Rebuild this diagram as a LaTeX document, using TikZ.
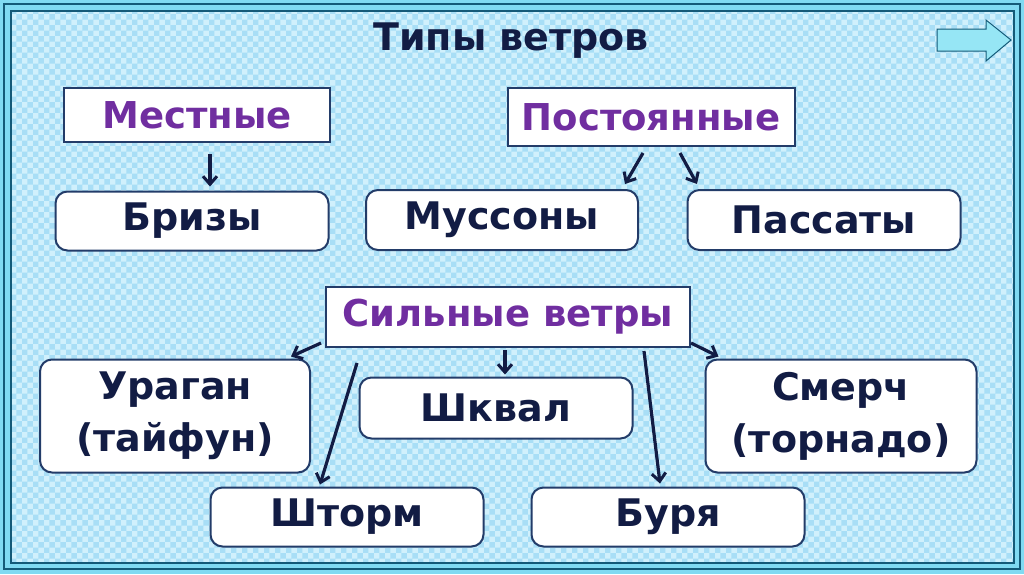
\documentclass[tikz,border=0pt]{standalone}
\usepackage{fontspec}
\setmainfont{DejaVu Sans}
\usetikzlibrary{arrows.meta,patterns}
\definecolor{bandcyan}{RGB}{128,218,242}
\definecolor{framedark}{RGB}{20,90,120}
\definecolor{skyback}{RGB}{208,240,252}
\definecolor{skychk}{RGB}{168,222,246}
\definecolor{boxline}{RGB}{35,60,105}
\definecolor{navytext}{RGB}{18,28,68}
\definecolor{violettext}{RGB}{112,46,160}
\definecolor{btnfill}{RGB}{150,230,245}

\begin{document}
\begin{tikzpicture}[x=1pt,y=-1pt,
  headbox/.style={draw=boxline,line width=2pt,fill=white,inner sep=0pt,text=violettext,font=\fontsize{37}{44}\selectfont\bfseries},
  windbox/.style={draw=boxline,line width=2pt,fill=white,rounded corners=12pt,inner sep=0pt,text=navytext,align=center,font=\fontsize{38}{52}\selectfont\bfseries},
  windarrow/.style={draw=navytext,line width=3.2pt,-{Straight Barb[length=8pt,width=14pt,line width=3pt]}}]
\useasboundingbox (0,0) rectangle (1024,574);
\path[fill=bandcyan] (0,0) rectangle (1024,574);
\path[fill=skyback] (11,11) rectangle (1014,563);
\path[pattern=checkerboard,pattern color=skychk] (11,11) rectangle (1014,563);
\draw[framedark,line width=1.2pt] (4,4) rectangle (1020,569);
\draw[framedark,line width=1.6pt] (11,11) rectangle (1014,563);
\path[fill=btnfill,draw=framedark,line width=1pt] (937,29) -- (986,29) -- (986,20) -- (1011,40) -- (986,61) -- (986,51) -- (937,51) -- cycle;
\node[text=navytext,font=\fontsize{38}{44}\selectfont\bfseries] (title) at (511,41) {Типы ветров};
\node[headbox,minimum width=266pt,minimum height=54pt] (local) at (197,115) {Местные};
\node[headbox,minimum width=287pt,minimum height=58pt] (constant) at (651,117) {Постоянные};
\node[windbox,minimum width=273pt,minimum height=59pt] (breeze) at (192,221) {Бризы};
\node[windbox,minimum width=272pt,minimum height=60pt] (monsoon) at (502,220) {Муссоны};
\node[windbox,minimum width=273pt,minimum height=60pt] (tradewind) at (824,220) {Пассаты};
\node[headbox,minimum width=364pt,minimum height=60pt] (strong) at (508,317) {Сильные ветры};
\node[windbox,minimum width=270pt,minimum height=113pt] (hurricane) at (175,416) {Ураган\\(тайфун)};
\node[windbox,minimum width=273pt,minimum height=61pt] (squall) at (496,408) {Шквал};
\node[windbox,minimum width=271pt,minimum height=113pt] (tornado) at (841,416) {Смерч\\(торнадо)};
\node[windbox,minimum width=273pt,minimum height=59pt] (gale) at (347,517) {Шторм};
\node[windbox,minimum width=273pt,minimum height=59pt] (storm) at (668,517) {Буря};
\draw[windarrow] ([xshift=13pt,yshift=-11pt]local.south) -- ([xshift=18pt,yshift=4pt]breeze.north);
\draw[windarrow] ([xshift=-8pt,yshift=-6pt]constant.south) -- ([xshift=123pt,yshift=5pt]monsoon.north);
\draw[windarrow] ([xshift=29pt,yshift=-6pt]constant.south) -- ([xshift=-127pt,yshift=5pt]tradewind.north);
\draw[windarrow] ([xshift=-4pt,yshift=5pt]strong.south west) -- ([xshift=-20pt,yshift=2pt]hurricane.north east);
\draw[windarrow] ([xshift=-3pt,yshift=-2pt]strong.south) -- ([xshift=9pt,yshift=2pt]squall.north);
\draw[windarrow] ([xshift=32pt,yshift=-15pt]strong.south west) -- ([xshift=-27pt,yshift=2pt]gale.north);
\draw[windarrow] ([xshift=-47pt,yshift=-3pt]strong.south east) -- ([xshift=-8pt,yshift=3pt]storm.north);
\draw[windarrow] ([yshift=5pt]strong.south east) -- ([xshift=14pt,yshift=2pt]tornado.north west);
\end{tikzpicture}
\end{document}
